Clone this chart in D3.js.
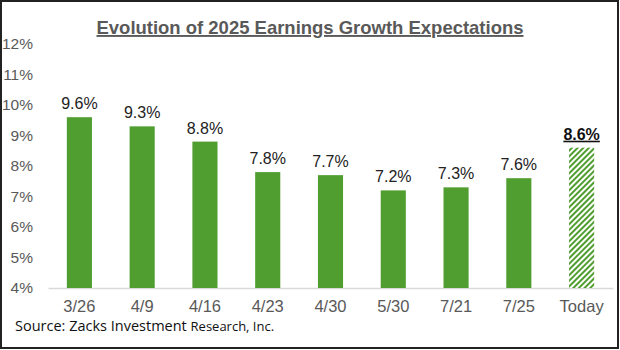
<!DOCTYPE html>
<html>
<head>
<meta charset="utf-8">
<script src="https://cdn.jsdelivr.net/npm/d3@7"></script>
<style>
  body { margin: 0; background: #fff; }
  svg { display: block; }
</style>
</head>
<body>
<div id="chart"></div>
<script>
// 数据
const categories = ['3/26', '4/9', '4/16', '4/23', '4/30', '5/30', '7/21', '7/25', 'Today'];
const values = [9.6, 9.3, 8.8, 7.8, 7.7, 7.2, 7.3, 7.6, 8.6];
const yTicks = [4, 5, 6, 7, 8, 9, 10, 11, 12];

const width = 620, height = 350;
const green = '#509e2f';
const gray = '#595959';

const svg = d3.select('#chart').append('svg')
    .attr('width', width)
    .attr('height', height)
    .style('font-family', '"Liberation Sans", Arial, sans-serif');

// 斜线填充
const defs = svg.append('defs');
const pat = defs.append('pattern')
    .attr('id', 'hatch')
    .attr('patternUnits', 'userSpaceOnUse')
    .attr('width', 4)
    .attr('height', 4)
    .attr('patternTransform', 'rotate(45)');
pat.append('rect').attr('width', 4).attr('height', 4).attr('fill', '#fff');
pat.append('rect').attr('width', 2).attr('height', 4).attr('fill', green);

// 外框
svg.append('rect')
    .attr('x', 1).attr('y', 1)
    .attr('width', width - 3).attr('height', height - 3)
    .attr('fill', 'none')
    .attr('stroke', '#222')
    .attr('stroke-width', 2);

const x = d3.scaleBand()
    .domain(categories)
    .range([48, 613])
    .paddingInner(0.6)
    .paddingOuter(0.3);

const y = d3.scaleLinear()
    .domain([4, 12])
    .range([288, 44]);

// 标题
svg.append('text')
    .attr('x', 310)
    .attr('y', 34)
    .attr('text-anchor', 'middle')
    .attr('textLength', 427)
    .attr('lengthAdjust', 'spacingAndGlyphs')
    .style('font-size', '19px')
    .style('font-weight', 'bold')
    .style('fill', gray)
    .style('text-decoration', 'underline')
    .text('Evolution of 2025 Earnings Growth Expectations');

// y轴
const yAxis = svg.append('g')
    .attr('transform', 'translate(33,0)')
    .call(d3.axisLeft(y).tickValues(yTicks).tickSize(0).tickPadding(0).tickFormat(d => d + '%'));
yAxis.select('.domain').remove();
yAxis.selectAll('text')
    .style('font-size', '15.5px')
    .style('fill', gray)
    .style('font-family', '"Liberation Sans", Arial, sans-serif');

// x轴
const xAxis = svg.append('g')
    .attr('transform', `translate(0,${y(4)})`)
    .call(d3.axisBottom(x).tickSize(0).tickPadding(12));
xAxis.select('.domain').attr('stroke', '#d9d9d9').attr('stroke-width', 1.5);
xAxis.selectAll('text')
    .style('font-size', '16.5px')
    .style('fill', gray)
    .style('font-family', '"Liberation Sans", Arial, sans-serif');

// 柱子
svg.append('g').selectAll('rect')
    .data(categories)
    .enter()
    .append('rect')
    .attr('x', d => x(d))
    .attr('y', (d, i) => y(values[i]))
    .attr('width', x.bandwidth())
    .attr('height', (d, i) => y(4) - y(values[i]))
    .attr('fill', d => d === 'Today' ? 'url(#hatch)' : green);

// 数值标签
svg.append('g').selectAll('text')
    .data(categories)
    .enter()
    .append('text')
    .attr('x', d => x(d) + x.bandwidth() / 2)
    .attr('y', (d, i) => y(values[i]) - 8)
    .attr('text-anchor', 'middle')
    .style('font-size', '16px')
    .style('fill', d => d === 'Today' ? '#111' : '#222')
    .style('font-weight', d => d === 'Today' ? 'bold' : 'normal')
    .style('text-decoration', d => d === 'Today' ? 'underline' : 'none')
    .text((d, i) => values[i].toFixed(1) + '%');

// 来源
const src = svg.append('text')
    .attr('x', 15)
    .attr('y', 331)
    .style('font-family', '"Open Sans", sans-serif')
    .style('font-size', '14.5px')
    .style('fill', '#111');
src.append('tspan').text('Source: Zacks Investment ');
src.append('tspan').style('font-size', '13px').text('Research, Inc.');
</script>
</body>
</html>
